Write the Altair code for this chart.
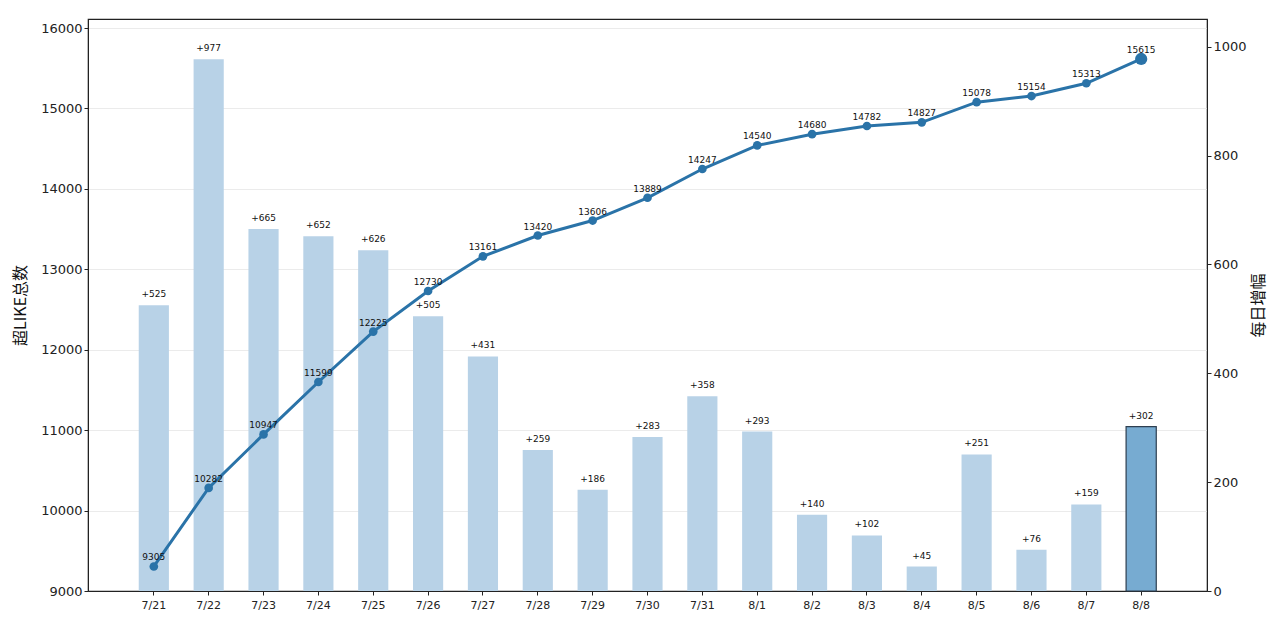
import altair as alt
import pandas as pd

dates = ["7/21", "7/22", "7/23", "7/24", "7/25", "7/26", "7/27", "7/28", "7/29", "7/30",
         "7/31", "8/1", "8/2", "8/3", "8/4", "8/5", "8/6", "8/7", "8/8"]
totals = [9305, 10282, 10947, 11599, 12225, 12730, 13161, 13420, 13606, 13889,
          14247, 14540, 14680, 14782, 14827, 15078, 15154, 15313, 15615]
increments = [525, 977, 665, 652, 626, 505, 431, 259, 186, 283,
              358, 293, 140, 102, 45, 251, 76, 159, 302]

df = pd.DataFrame({
    "date": dates,
    "total": totals,
    "inc": increments,
})
df["inc_label"] = ["+" + str(v) for v in increments]
df["is_last"] = [i == len(dates) - 1 for i in range(len(dates))]

FONT = "DejaVu Sans"
CJK = "Noto Sans CJK SC"

x = alt.X("date:N", sort=None, title=None,
          scale=alt.Scale(paddingInner=0.45, paddingOuter=0.925),
          axis=alt.Axis(labelAngle=0, labelFontSize=11, labelFont=FONT, labelColor="#222",
                        tickColor="#222", tickSize=4, domain=True, domainColor="#222",
                        labelPadding=4))

y_right = alt.Y("inc:Q", scale=alt.Scale(domain=[0, 1051], nice=False),
                axis=alt.Axis(orient="right", title="每日增幅", titleAngle=270, titleFont=CJK,
                              titleFontSize=16, titleFontWeight="normal", titleColor="#111",
                              titlePadding=20, values=[0, 200, 400, 600, 800, 1000], format="d",
                              grid=False, labelFontSize=13, labelFont=FONT, labelColor="#222",
                              tickColor="#222", tickSize=4, domainColor="#222"))

y_left = alt.Y("total:Q", scale=alt.Scale(domain=[9000, 16112], nice=False),
               axis=alt.Axis(orient="left", title="超LIKE总数", titleFont=CJK,
                             titleFontSize=16, titleFontWeight="normal", titleColor="#111",
                             titlePadding=12, values=list(range(9000, 16001, 1000)), format="d",
                             grid=True, gridColor="#e6e6e6", gridWidth=0.8,
                             labelFontSize=13, labelFont=FONT, labelColor="#222",
                             tickColor="#222", tickSize=4, domainColor="#222"))

base = alt.Chart(df)

bars = base.mark_bar().encode(
    x=x,
    y=y_right,
    color=alt.condition("datum.is_last", alt.value("#77abd1"), alt.value("#b8d2e7")),
    stroke=alt.condition("datum.is_last", alt.value("#2e3f50"), alt.value("#b8d2e7")),
    strokeWidth=alt.condition("datum.is_last", alt.value(1.2), alt.value(0)),
)

bar_text = base.mark_text(baseline="bottom", dy=-6, fontSize=9, font=FONT, color="#111").encode(
    x=x, y=y_right, text="inc_label:N",
)

bars_layer = alt.layer(bars, bar_text)

line = base.mark_line(color="#2a73a8", strokeWidth=3).encode(x=x, y=y_left)

points = base.mark_circle(color="#2a73a8", opacity=1).encode(
    x=x, y=y_left,
    size=alt.condition("datum.is_last", alt.value(150), alt.value(75)),
)

pt_text = base.mark_text(baseline="bottom", dy=-4, fontSize=9, font=FONT, color="#111").encode(
    x=x, y=y_left, text="total:Q",
)

line_layer = alt.layer(line, points, pt_text)

chart = alt.layer(bars_layer, line_layer).resolve_scale(y="independent").properties(
    width=1119, height=572, background="white",
    padding={"left": 4, "top": 11, "right": 5, "bottom": 5}
).configure_view(stroke="#222222", strokeWidth=1.2)

chart.save("out.html", embed_options={"renderer": "svg", "actions": False})
